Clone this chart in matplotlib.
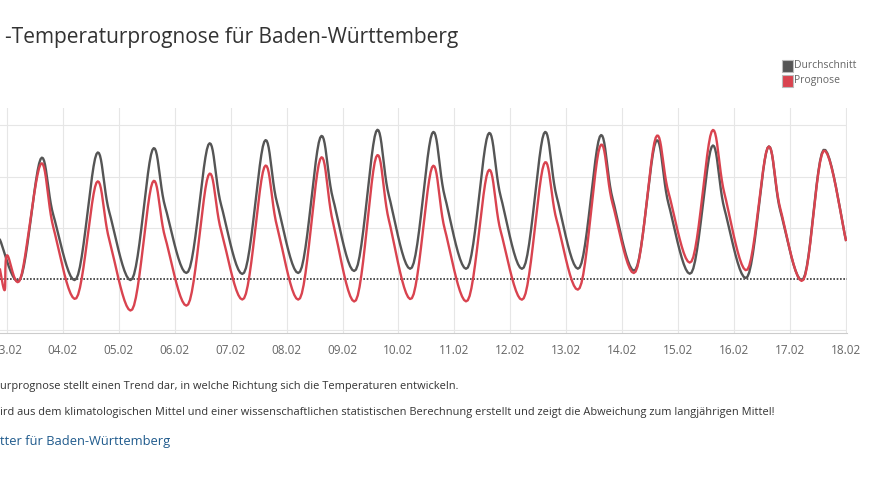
import numpy as np
import matplotlib.pyplot as plt

plt.rcParams['font.family'] = 'Open Sans'

# key points per day (day of February, temperature deviation in degC)
days = np.arange(3, 18)
mean_peak = [11.7, 12.2, 12.6, 13.1, 13.4, 13.8, 14.4, 14.2, 14.1, 14.2, 13.9, 13.4, 12.9, 12.8, 12.6]
mean_shoulder = [6.2, 6.5, 7.0, 7.2, 7.4, 7.8, 8.1, 8.0, 8.0, 8.0, 7.8, 7.3, 6.8, 6.6]
mean_min = [0.0, 0.0, 0.0, 0.7, 0.6, 0.7, 0.9, 1.1, 1.1, 1.1, 1.1, 0.9, 0.6, 0.2, 0.0]
prog_peak = [11.2, 9.4, 9.4, 10.1, 10.9, 11.7, 11.9, 10.9, 10.5, 11.2, 12.9, 13.8, 14.4, 12.8, 12.5]
prog_shoulder = [5.0, 3.8, 4.0, 4.7, 5.1, 5.5, 5.7, 4.8, 4.6, 5.7, 7.3, 8.4, 8.3, 6.8]
prog_min = [0.0, -1.9, -3.0, -2.5, -1.9, -1.9, -2.1, -1.9, -2.1, -1.9, -0.9, 0.7, 1.7, 0.9, -0.1]
mean_start = [(2.875, 3.8)]
prog_start = [(2.875, 0.9), (2.96, -1.1), (3.0, 2.3)]
end_value = 3.8
xlabels = ['03.02', '04.02', '05.02', '06.02', '07.02', '08.02', '09.02', '10.02',
           '11.02', '12.02', '13.02', '14.02', '15.02', '16.02', '17.02', '18.02']


def build(start, mins, peaks, shoulders):
    pts = list(start)
    for i, d in enumerate(days):
        pts.append((d + 0.24, mins[i]))
        pts.append((d + 0.6, peaks[i]))
        if i < len(shoulders):
            pts.append((d + 0.83, shoulders[i]))
    pts.append((18.0, end_value))
    return np.array(pts)


def smooth(pts, n=12):
    # Catmull-Rom curve through the read points
    p = np.vstack([pts[0], pts, pts[-1]])
    out = []
    for i in range(1, len(p) - 2):
        p0, p1, p2, p3 = p[i - 1], p[i], p[i + 1], p[i + 2]
        for t in np.linspace(0, 1, n, endpoint=False):
            out.append(0.5 * (2 * p1 + (-p0 + p2) * t + (2 * p0 - 5 * p1 + 4 * p2 - p3) * t**2
                              + (-p0 + 3 * p1 - 3 * p2 + p3) * t**3))
    out.append(p[-2])
    return np.array(out)


fig = plt.figure(figsize=(8.75, 4.92), dpi=100)
ax = fig.add_axes([0, (492 - 333) / 492, 847 / 875, (333 - 108) / 492])
ax.set_xlim(2.875, 18.02)
ax.set_ylim(-5.3, 16.7)

ax.set_yticks([-5, 5, 10, 15])
ax.set_xticks(np.arange(3, 19))
ax.set_xticklabels(xlabels, fontsize=8.5, color='#666666')
ax.tick_params(axis='y', length=0, labelleft=False)
ax.tick_params(axis='x', length=0, pad=8)
ax.grid(True, color='#e6e6e6', linewidth=0.8)
for s in ['top', 'right', 'left']:
    ax.spines[s].set_visible(False)
ax.spines['bottom'].set_color('#cccccc')
ax.axhline(0, color='#333333', linestyle=(0, (1, 1)), linewidth=1.2, zorder=2)

m = smooth(build(mean_start, mean_min, mean_peak, mean_shoulder))
p = smooth(build(prog_start, prog_min, prog_peak, prog_shoulder))
ax.plot(m[:, 0], m[:, 1], color='#555555', linewidth=1.7, zorder=3)
ax.plot(p[:, 0], p[:, 1], color='#d9434f', linewidth=1.7, zorder=4)

fig.text(5 / 875, 1 - 38 / 492, '-Temperaturprognose für Baden-Württemberg',
         fontsize=15, color='#333333', va='center')
for i, (lab, col) in enumerate([('Durchschnitt', '#555555'), ('Prognose', '#d9434f')]):
    y = 1 - (66 + 15 * i) / 492
    fig.patches.append(plt.Rectangle((782 / 875, y - 6 / 492), 11 / 875, 12 / 492,
                                     transform=fig.transFigure, facecolor=col,
                                     edgecolor='#bbbbbb', linewidth=0.8))
    fig.text(794 / 875, y, lab, fontsize=7.5, color='#666666', va='center')

fig.text(0, 1 - 386 / 492, 'urprognose stellt einen Trend dar, in welche Richtung sich die Temperaturen entwickeln.',
         fontsize=7.9, color='#333333', va='center')
fig.text(0, 1 - 412 / 492, 'ird aus dem klimatologischen Mittel und einer wissenschaftlichen statistischen Berechnung erstellt und zeigt die Abweichung zum langjährigen Mittel!',
         fontsize=7.9, color='#333333', va='center')
fig.text(0, 1 - 442 / 492, 'tter für Baden-Württemberg', fontsize=9.3, color='#1f5a8c', va='center')

fig.savefig('out.png', dpi=100, facecolor='white')
